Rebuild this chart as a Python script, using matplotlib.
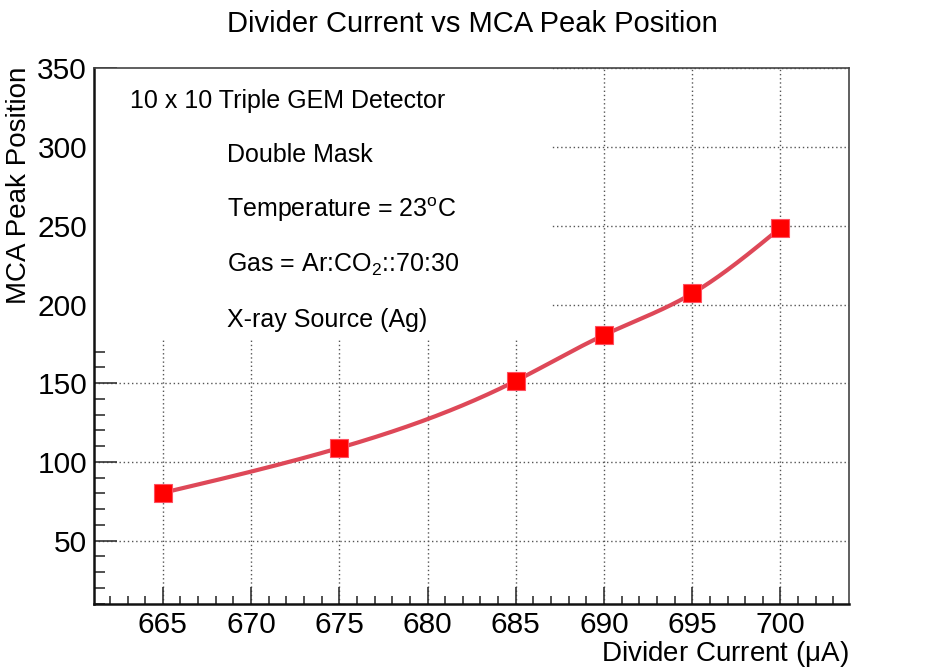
import numpy as np
import matplotlib
matplotlib.use('Agg')
import matplotlib.pyplot as plt
from matplotlib.patches import Rectangle
from matplotlib.ticker import MultipleLocator

# 字体设置 (Helvetica 风格)
plt.rcParams['font.family'] = ['Liberation Sans', 'DejaVu Sans']
plt.rcParams['mathtext.fontset'] = 'custom'
plt.rcParams['mathtext.rm'] = 'Liberation Sans'
plt.rcParams['mathtext.it'] = 'Liberation Sans:italic'

# 数据
current = [665, 675, 685, 690, 695, 700]
peak = [80.4, 108.9, 151.5, 180.6, 207.0, 248.7]

info_lines = [
    '10 x 10 Triple GEM Detector',
    'Double Mask',
    r'Temperature = 23$^{\mathrm{o}}$C',
    r'Gas = Ar:CO$_{\mathrm{2}}$::70:30',
    'X-ray Source (Ag)',
]


def natural_spline(x, y, n=300):
    """自然三次样条, 用于绘制平滑曲线"""
    x = np.asarray(x, float)
    y = np.asarray(y, float)
    k = len(x)
    h = np.diff(x)
    A = np.zeros((k, k))
    b = np.zeros(k)
    A[0, 0] = 1
    A[-1, -1] = 1
    for i in range(1, k - 1):
        A[i, i - 1] = h[i - 1]
        A[i, i] = 2 * (h[i - 1] + h[i])
        A[i, i + 1] = h[i]
        b[i] = 6 * ((y[i + 1] - y[i]) / h[i] - (y[i] - y[i - 1]) / h[i - 1])
    M = np.linalg.solve(A, b)
    xs = np.linspace(x[0], x[-1], n)
    idx = np.clip(np.searchsorted(x, xs) - 1, 0, k - 2)
    x0, x1 = x[idx], x[idx + 1]
    hh = x1 - x0
    t0 = x1 - xs
    t1 = xs - x0
    ys = (M[idx] * t0 ** 3 + M[idx + 1] * t1 ** 3) / (6 * hh) \
        + (y[idx] / hh - M[idx] * hh / 6) * t0 \
        + (y[idx + 1] / hh - M[idx + 1] * hh / 6) * t1
    return xs, ys


fig = plt.figure(figsize=(9.47, 6.72), dpi=100)
ax = fig.add_axes([94 / 947, 1 - 603.7 / 672, (849.3 - 94) / 947, (603.7 - 68.3) / 672])

# 网格
ax.grid(True, which='major', linestyle=(0, (1, 2)), color='#555555', linewidth=1.0, zorder=1)

# 文字区域的白色背景 (遮住网格)
ax.add_patch(Rectangle((0, 0.4925), 0.605, 0.5075, transform=ax.transAxes,
                       facecolor='white', edgecolor='none', zorder=2))

# 曲线与数据点
xs, ys = natural_spline(current, peak)
ax.plot(xs, ys, color='#DE4858', linewidth=3.0, zorder=3, solid_capstyle='round')
ax.plot(current, peak, linestyle='none', marker='s', markersize=12.5,
        markerfacecolor='#FF0000', markeredgecolor='#FF5060', markeredgewidth=0.8, zorder=4)

# 坐标轴刻度
ax.xaxis.set_major_locator(MultipleLocator(5))
ax.xaxis.set_minor_locator(MultipleLocator(1))
ax.yaxis.set_major_locator(MultipleLocator(50))
ax.yaxis.set_minor_locator(MultipleLocator(10))
ax.set_xlim(661.1, 703.9)
ax.set_ylim(10, 350)

ax.tick_params(axis='both', which='both', direction='in', top=False, right=False,
               color='#333333', labelsize=21.5)
ax.tick_params(axis='x', which='major', length=12.5, width=1.2, pad=5)
ax.tick_params(axis='x', which='minor', length=5.5, width=1.2)
ax.tick_params(axis='y', which='major', length=16.5, width=1.2, pad=5)
ax.tick_params(axis='y', which='minor', length=8, width=1.2)

for side in ['left', 'bottom']:
    ax.spines[side].set_linewidth(1.8)
    ax.spines[side].set_color('#111111')
for side in ['top', 'right']:
    ax.spines[side].set_linewidth(1.2)
    ax.spines[side].set_color('#444444')
for s in ax.spines.values():
    s.set_zorder(5)

# 标题和坐标轴标签
fig.text(472 / 947, 1 - 32 / 672, 'Divider Current vs MCA Peak Position',
         ha='center', va='baseline', fontsize=21)
fig.text(849 / 947, 1 - 661 / 672, r'Divider Current ($\mathrm{\mu}$A)',
         ha='right', va='baseline', fontsize=20)
fig.text(19 / 947, 1 - 67 / 672, 'MCA Peak Position', rotation=90,
         ha='right', va='center', fontsize=20, rotation_mode='anchor')

# 注释文字
info_pos = [(130, 108), (227, 162), (227, 217), (227, 272), (227, 327)]
for (px, py), txt in zip(info_pos, info_lines):
    fig.text(px / 947, 1 - py / 672, txt, ha='left', va='baseline', fontsize=18)

fig.savefig('out.png', dpi=100)
